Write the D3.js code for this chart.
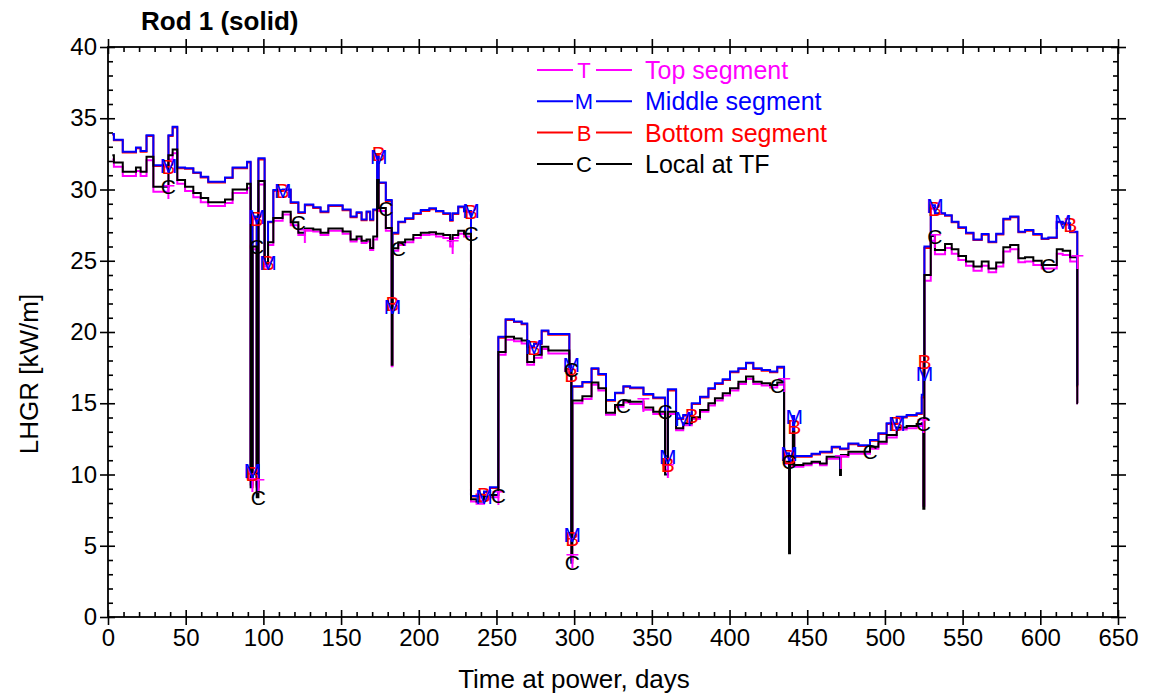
<!DOCTYPE html>
<html>
<head>
<meta charset="utf-8">
<script src="https://cdn.jsdelivr.net/npm/d3@7"></script>
<style>
  body { margin: 0; background: #fff; }
  svg { display: block; font-family: "Liberation Sans", Arial, sans-serif; }
</style>
</head>
<body>
<svg id="chart" width="1168" height="697"></svg>
<script>
// step start times (days at power)
const days = [2.8, 3.8, 9.5, 18.0, 21.0, 24.8, 29.2, 38.9, 41.6, 44.6,
  49.6, 54.9, 59.7, 64.5, 75.3, 80.2, 89.5, 91.8, 93.0, 95.7,
  96.8, 100.8, 103.0, 106.4, 112.4, 117.6, 122.5, 126.7, 132.1, 136.8,
  141.8, 151.0, 156.1, 160.0, 163.2, 166.4, 168.7, 170.7, 173.2, 174.2,
  178.8, 182.6, 183.1, 186.8, 191.2, 196.5, 201.3, 206.8, 211.1, 215.8,
  220.2, 221.8, 225.4, 229.1, 233.6, 237.2, 242.0, 245.8, 251.2, 255.9,
  261.3, 266.2, 269.8, 274.2, 279.1, 283.4, 296.9, 298.2, 298.8, 305.3,
  311.2, 315.6, 320.5, 326.3, 331.7, 336.0, 344.6, 350.9, 358.5, 360.3,
  365.6, 370.2, 375.7, 381.0, 386.4, 390.6, 395.6, 400.3, 405.7, 410.6,
  415.3, 420.7, 426.1, 430.7, 435.1, 438.3, 438.9, 440.8, 441.6, 447.5,
  452.8, 458.2, 462.5, 465.8, 471.1, 471.7, 476.5, 482.9, 490.4, 495.8,
  501.1, 507.6, 514.0, 520.4, 523.7, 524.7, 525.4, 529.5, 532.2, 538.7,
  543.0, 547.3, 552.2, 557.0, 562.3, 566.7, 571.6, 576.2, 580.6, 585.9,
  590.2, 595.5, 600.9, 605.2, 610.6, 614.4, 619.2, 623.8];
const endDay = 624.2;

// LHGR, kW/m
const topSeg = [32.1, 31.6, 30.95, 31.3, 30.95, 32.05, 29.85, 32.1, 32.55, 30.4,
  29.9, 29.45, 29.1, 28.85, 29.05, 29.75, 30.1, 9.3, 25.8, 9.2,
  30.35, 24.6, 26.1, 27.8, 28.25, 27.5, 26.8, 27.1, 27.05, 26.8,
  27.1, 26.9, 26.35, 26.55, 26.25, 26.35, 25.75, 26.5, 30.4, 28.5,
  27.1, 17.6, 25.7, 26.1, 26.3, 26.6, 26.8, 26.85, 26.7, 26.6,
  26.0, 26.6, 26.9, 26.7, 8.1, 7.95, 8.3, 8.4, 18.4, 19.45,
  19.35, 19.2, 17.7, 18.2, 18.8, 18.5, 17.1, 4.0, 15.0, 15.3,
  16.3, 15.9, 14.2, 14.75, 15.05, 14.95, 14.55, 14.25, 10.3, 14.25,
  13.1, 13.45, 13.9, 14.4, 14.85, 15.2, 15.55, 15.9, 16.35, 16.7,
  16.35, 16.25, 16.1, 16.3, 10.75, 7.0, 10.55, 12.8, 10.55, 10.65,
  10.8, 10.65, 11.1, 11.1, 10.9, 11.25, 11.45, 11.45, 11.8, 12.15,
  12.6, 13.15, 13.25, 13.4, 13.45, 7.8, 23.6, 26.4, 25.45, 25.9,
  25.5, 25.05, 24.65, 24.3, 24.65, 24.2, 24.6, 25.65, 25.8, 24.9,
  24.95, 24.7, 24.45, 24.45, 25.5, 25.4, 24.95, 15.0];

const midSeg = [33.9, 33.5, 32.65, 32.95, 32.7, 33.8, 31.7, 33.8, 34.4, 31.55,
  31.5, 31.2, 30.9, 30.55, 30.85, 31.55, 31.95, 10.3, 28.1, 9.3,
  32.2, 24.9, 27.74, 29.96, 30.0, 29.1, 28.4, 28.95, 28.75, 28.45,
  28.9, 28.6, 28.1, 28.4, 27.9, 28.45, 27.9, 28.6, 32.3, 30.5,
  29.26, 21.8, 26.97, 27.74, 27.98, 28.33, 28.56, 28.68, 28.5, 28.33,
  27.86, 28.33, 28.8, 28.5, 8.5, 8.45, 8.8, 9.1, 19.67, 20.9,
  20.74, 20.6, 19.0, 19.2, 20.1, 19.86, 17.7, 5.8, 16.2, 16.5,
  17.45, 17.05, 15.23, 15.74, 16.2, 16.1, 15.65, 15.4, 11.3, 15.98,
  13.94, 14.18, 15.0, 15.46, 16.05, 16.4, 16.68, 17.22, 17.45, 17.85,
  17.45, 17.33, 17.22, 17.57, 11.5, 10.8, 11.0, 14.1, 11.3, 11.3,
  11.46, 11.6, 11.6, 11.95, 11.83, 11.83, 12.18, 12.05, 12.42, 12.9,
  13.6, 14.06, 14.18, 14.29, 15.6, 17.1, 26.0, 28.9, 28.33, 28.2,
  27.74, 27.35, 26.97, 26.5, 26.88, 26.34, 26.9, 27.95, 28.1, 27.04,
  27.16, 26.88, 26.57, 26.64, 27.74, 27.63, 27.04, 16.28];

const botSeg = [33.85, 33.45, 32.6, 32.9, 32.65, 33.75, 31.65, 33.75, 34.35, 31.5,
  31.45, 31.15, 30.85, 30.5, 30.8, 31.5, 31.9, 10.1, 28.0, 9.1,
  32.1, 24.85, 27.7, 29.9, 29.95, 29.05, 28.35, 28.9, 28.7, 28.4,
  28.85, 28.55, 28.05, 28.35, 27.85, 28.4, 27.85, 28.55, 32.5, 30.45,
  29.2, 22.0, 26.9, 27.7, 27.93, 28.28, 28.5, 28.62, 28.45, 28.28,
  27.8, 28.28, 28.75, 28.45, 8.45, 8.6, 8.75, 9.05, 19.6, 20.85,
  20.7, 20.55, 18.95, 19.15, 20.05, 19.8, 17.0, 5.5, 16.15, 16.45,
  17.4, 17.0, 15.18, 15.7, 16.15, 16.05, 15.6, 15.35, 10.7, 15.9,
  13.9, 14.13, 14.95, 15.4, 16.0, 16.35, 16.63, 17.17, 17.4, 17.8,
  17.4, 17.28, 17.17, 17.5, 11.3, 10.6, 10.9, 13.4, 11.25, 11.25,
  11.4, 11.55, 11.55, 11.9, 11.78, 11.78, 12.13, 12.0, 12.37, 12.85,
  13.55, 14.0, 14.13, 14.24, 15.4, 17.9, 25.9, 28.7, 28.3, 28.15,
  27.7, 27.3, 26.92, 26.45, 26.83, 26.3, 26.85, 27.9, 28.05, 27.0,
  27.1, 26.83, 26.52, 26.6, 27.7, 27.58, 27.0, 16.2];

const localTF = [32.4, 31.9, 31.25, 31.55, 31.25, 32.3, 30.2, 32.4, 32.8, 30.67,
  30.2, 29.75, 29.4, 29.1, 29.3, 30.0, 30.4, 9.1, 26.0, 8.4,
  30.6, 24.8, 26.3, 28.0, 28.44, 27.7, 26.97, 27.27, 27.2, 26.97,
  27.27, 27.05, 26.5, 26.7, 26.4, 26.5, 25.9, 26.7, 30.67, 28.7,
  27.3, 17.7, 25.87, 26.3, 26.5, 26.8, 26.97, 27.0, 26.9, 26.8,
  26.4, 26.8, 27.1, 26.9, 8.26, 8.1, 8.45, 8.56, 18.6, 19.67,
  19.55, 19.4, 17.9, 18.4, 18.97, 18.7, 17.4, 3.8, 15.2, 15.5,
  16.45, 16.05, 14.34, 14.88, 15.2, 15.1, 14.7, 14.4, 10.0, 14.4,
  13.24, 13.59, 14.01, 14.53, 15.0, 15.35, 15.7, 16.05, 16.51, 16.87,
  16.51, 16.4, 16.28, 16.45, 10.9, 4.47, 10.7, 13.0, 10.67, 10.78,
  10.9, 10.78, 11.25, 11.25, 9.96, 11.37, 11.6, 11.6, 11.95, 12.3,
  12.77, 13.3, 13.4, 13.54, 13.6, 7.6, 24.0, 26.74, 25.75, 26.17,
  25.8, 25.33, 24.94, 24.6, 24.94, 24.46, 24.87, 25.94, 26.1, 25.17,
  25.24, 25.0, 24.7, 24.7, 25.8, 25.7, 25.24, 15.0];

// which steps carry a letter (at the step's right end)
const markT = [6, 17, 19, 26, 50, 57, 67, 75, 78, 93, 104, 114, 117, 136];
const markM = [6, 17, 18, 21, 23, 38, 41, 53, 55, 62, 66, 67, 78, 80, 94, 97, 110, 115, 117, 134];
const markB = [6, 17, 18, 21, 23, 38, 41, 53, 55, 62, 66, 67, 78, 81, 94, 97, 110, 115, 117, 135];
const markC = [6, 18, 19, 25, 39, 42, 53, 57, 66, 67, 73, 77, 92, 94, 107, 114, 117, 132];

const xTicks = d3.range(0, 651, 50);
const yTicks = d3.range(0, 41, 5);

const series = [
  { name: "Top segment", letter: "T", color: "#ff00ff", values: topSeg, marks: markT },
  { name: "Middle segment", letter: "M", color: "#0000ff", values: midSeg, marks: markM },
  { name: "Bottom segment", letter: "B", color: "#ff0000", values: botSeg, marks: markB },
  { name: "Local at TF", letter: "C", color: "#000000", values: localTF, marks: markC }
];
const drawOrder = [0, 2, 1, 3];

var margin = { top: 47, right: 50, bottom: 80, left: 108 },
    width = 1118 - margin.left,
    height = 617 - margin.top;

const svg = d3.select("#chart");
const g = svg.append("g")
    .attr("transform", "translate(" + margin.left + "," + margin.top + ")");

var x = d3.scaleLinear().domain([0, 650]).range([0, width]);
var y = d3.scaleLinear().domain([0, 40]).range([height, 0]);

const xMinor = d3.range(0, 651, 10).filter(d => d % 50 !== 0);
const yMinor = d3.range(0, 41, 1).filter(d => d % 5 !== 0);

function tickAxis(axis, ticks, size, tr) {
  const a = g.append("g")
      .attr("transform", tr)
      .call(axis.tickValues(ticks).tickSize(size).tickSizeOuter(0).tickFormat(""));
  a.select(".domain").remove();
  a.selectAll("line").attr("stroke", "#000").attr("stroke-width", 1.6);
  return a;
}

// outward major ticks with labels
const xa = g.append("g")
    .attr("transform", "translate(0," + height + ")")
    .call(d3.axisBottom(x).tickValues(xTicks).tickSize(8).tickSizeOuter(0).tickPadding(4));
xa.select(".domain").remove();
xa.selectAll("line").attr("stroke", "#000").attr("stroke-width", 1.6);
xa.selectAll("text").attr("font-size", 24).attr("fill", "#000")
    .attr("font-family", "Liberation Sans, Arial, sans-serif");

const ya = g.append("g")
    .call(d3.axisLeft(y).tickValues(yTicks).tickSize(8).tickSizeOuter(0).tickPadding(3));
ya.select(".domain").remove();
ya.selectAll("line").attr("stroke", "#000").attr("stroke-width", 1.6);
ya.selectAll("text").attr("font-size", 24).attr("fill", "#000")
    .attr("font-family", "Liberation Sans, Arial, sans-serif");

// mirrored and inner ticks
tickAxis(d3.axisTop(x), xTicks, 8, "translate(0,0)");
tickAxis(d3.axisRight(y), yTicks, 8, "translate(" + width + ",0)");
tickAxis(d3.axisTop(x), xTicks, 7, "translate(0," + height + ")");
tickAxis(d3.axisBottom(x), xTicks, 7, "translate(0,0)");
tickAxis(d3.axisRight(y), yTicks, 7, "translate(0,0)");
tickAxis(d3.axisLeft(y), yTicks, 7, "translate(" + width + ",0)");
tickAxis(d3.axisTop(x), xMinor, 5, "translate(0," + height + ")");
tickAxis(d3.axisBottom(x), xMinor, 5, "translate(0,0)");
tickAxis(d3.axisRight(y), yMinor, 5, "translate(0,0)");
tickAxis(d3.axisLeft(y), yMinor, 5, "translate(" + width + ",0)");

g.append("rect")
    .attr("width", width).attr("height", height)
    .attr("fill", "none").attr("stroke", "#000").attr("stroke-width", 1.8);

// step lines
const line = d3.line()
    .x(d => x(d[0]))
    .y(d => y(d[1]))
    .curve(d3.curveStepAfter);

drawOrder.forEach(function (k) {
  const s = series[k];
  const pts = days.map((d, i) => [d, s.values[i]]);
  pts.push([endDay, s.values[s.values.length - 1]]);
  g.append("path")
      .datum(pts)
      .attr("fill", "none")
      .attr("stroke", s.color)
      .attr("stroke-width", 2)
      .attr("d", line);
});

// letter markers
drawOrder.forEach(function (k) {
  const s = series[k];
  g.selectAll(".mk" + s.letter)
      .data(s.marks)
      .enter().append("text")
      .attr("x", i => x(i + 1 < days.length ? days[i + 1] : endDay))
      .attr("y", i => y(s.values[i]))
      .attr("dy", "0.36em")
      .attr("text-anchor", "middle")
      .attr("font-size", 21)
      .attr("fill", s.color)
      .text(s.letter);
});

// legend
const legend = svg.append("g").attr("transform", "translate(537,70)");
series.forEach(function (s, i) {
  const row = legend.append("g").attr("transform", "translate(0," + (i * 31.3) + ")");
  row.append("line").attr("x1", 0).attr("x2", 36).attr("stroke", s.color).attr("stroke-width", 2);
  row.append("line").attr("x1", 59).attr("x2", 95).attr("stroke", s.color).attr("stroke-width", 2);
  row.append("text").attr("x", 47).attr("dy", "0.36em").attr("text-anchor", "middle")
      .attr("font-size", 22).attr("fill", s.color).text(s.letter);
  row.append("text").attr("x", 108).attr("dy", "0.36em")
      .attr("font-size", 25).attr("fill", s.color).text(s.name);
});

// titles
svg.append("text")
    .attr("x", 141).attr("y", 30)
    .attr("font-size", 26).attr("font-weight", "bold")
    .text("Rod 1 (solid)");

svg.append("text")
    .attr("x", 574).attr("y", 688)
    .attr("text-anchor", "middle")
    .attr("font-size", 26)
    .text("Time at power, days");

svg.append("text")
    .attr("transform", "translate(38,374) rotate(-90)")
    .attr("text-anchor", "middle")
    .attr("font-size", 26)
    .text("LHGR [kW/m]");
</script>
</body>
</html>
